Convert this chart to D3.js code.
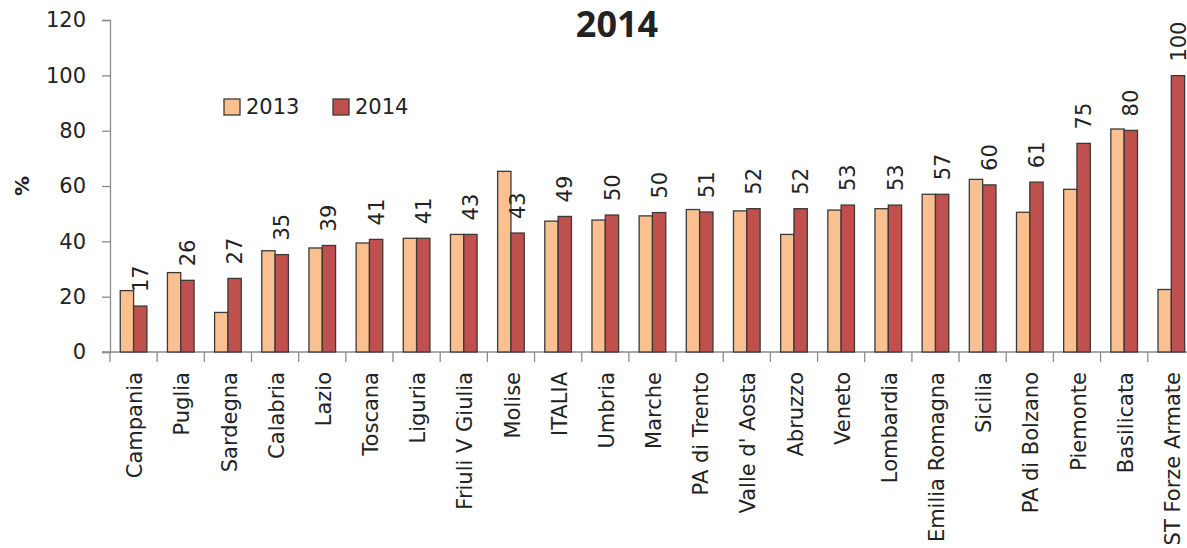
<!DOCTYPE html>
<html>
<head>
<meta charset="utf-8">
<script src="https://cdn.jsdelivr.net/npm/d3@7"></script>
<style>
  body { margin: 0; background: #fff; }
  svg text { font-family: "DejaVu Sans", Verdana, sans-serif; fill: #222; }
</style>
</head>
<body>
<div id="chart"></div>
<script>
// data
const categories = ["Campania", "Puglia", "Sardegna", "Calabria", "Lazio", "Toscana", "Liguria",
    "Friuli V Giulia", "Molise", "ITALIA", "Umbria", "Marche", "PA di Trento", "Valle d' Aosta",
    "Abruzzo", "Veneto", "Lombardia", "Emilia Romagna", "Sicilia", "PA di Bolzano", "Piemonte",
    "Basilicata", "ST Forze Armate"]
const series = ["2013", "2014"]
const values2013 = [22.2, 28.7, 14.3, 36.6, 37.6, 39.4, 41.1, 42.5, 65.3, 47.3, 47.7, 49.2, 51.5,
    51.0, 42.5, 51.3, 51.8, 57.0, 62.4, 50.5, 58.8, 80.6, 22.6]
const values2014 = [16.6, 25.9, 26.6, 35.2, 38.5, 40.7, 41.1, 42.5, 43.0, 49.0, 49.5, 50.4, 50.6,
    51.8, 51.8, 53.1, 53.1, 57.0, 60.4, 61.4, 75.4, 80.1, 99.9]
const yTicks = [0, 20, 40, 60, 80, 100, 120]
const colors = { "2013": "#FAC090", "2014": "#C0504D" }

let width = 1187, height = 548
let margin = { top: 20, left: 110, bottom: 196 }
let bandStep = 47.17

let svg = d3.select("#chart")
    .append("svg")
    .attr("width", width)
    .attr("height", height)

// scales
let x = d3.scaleBand().domain(categories)
    .range([margin.left, margin.left + bandStep * categories.length])
let xInner = d3.scaleBand().domain(series).range([0, x.bandwidth()]).paddingOuter(0.77)
let y = d3.scaleLinear().domain([0, 120]).range([height - margin.bottom, margin.top])

let rows = categories.map((c, i) => ({ name: c, "2013": values2013[i], "2014": values2014[i] }))

// y axis
let yAxis = d3.axisLeft(y).tickValues(yTicks).tickSize(8).tickPadding(16)
let gy = svg.append("g")
    .attr("transform", "translate(" + margin.left + ",0)")
    .call(yAxis)
gy.select(".domain").attr("stroke", "#8c8c8c").attr("stroke-width", 1.3)
gy.selectAll(".tick line").attr("stroke", "#8c8c8c").attr("stroke-width", 1.3)
gy.selectAll(".tick text")
    .style("font-size", "21px")
    .attr("fill", "#222")

// x axis with ticks between the categories
let gx = svg.append("g")
    .attr("transform", "translate(0," + y(0) + ")")
gx.append("line")
    .attr("x1", margin.left - 8).attr("x2", x.range()[1])
    .attr("stroke", "#8c8c8c").attr("stroke-width", 1.3)
gx.selectAll(".sep")
    .data(categories)
    .enter()
    .append("line")
    .attr("class", "sep")
    .attr("x1", d => x(d)).attr("x2", d => x(d))
    .attr("y1", 0).attr("y2", 10)
    .attr("stroke", "#8c8c8c").attr("stroke-width", 1.3)
gx.selectAll(".catlabel")
    .data(categories)
    .enter()
    .append("text")
    .attr("class", "catlabel")
    .attr("transform", d => "translate(" + (x(d) + x.bandwidth() / 2) + ",20) rotate(-90)")
    .attr("dy", "0.41em")
    .style("text-anchor", "end")
    .style("font-size", "21px")
    .text(d => d)

// bars
let groups = svg.selectAll(".grp")
    .data(rows)
    .enter()
    .append("g")
    .attr("class", "grp")
    .attr("transform", d => "translate(" + x(d.name) + ",0)")

groups.selectAll("rect")
    .data(d => series.map(s => ({ key: s, value: d[s] })))
    .enter()
    .append("rect")
    .attr("x", d => xInner(d.key))
    .attr("y", d => y(d.value))
    .attr("width", xInner.bandwidth())
    .attr("height", d => y(0) - y(d.value))
    .attr("fill", d => colors[d.key])
    .attr("stroke", "#3a3a3a")
    .attr("stroke-width", 1.3)

// value labels for 2014
groups.append("text")
    .attr("transform", d => "translate(" + (xInner("2014") + xInner.bandwidth() / 2) + "," +
        (y(d["2014"]) - 14) + ") rotate(-90)")
    .attr("dy", "0.36em")
    .style("font-size", "21px")
    .text(d => Math.round(d["2014"]))

// title
svg.append("text")
    .attr("x", 617)
    .attr("y", 37)
    .style("text-anchor", "middle")
    .style("font-family", "'Open Sans', sans-serif")
    .style("font-weight", "bold")
    .style("font-size", "36px")
    .attr("fill", "#000")
    .text("2014")

// y axis title
svg.append("text")
    .attr("transform", "translate(22," + ((y(0) + y(120)) / 2) + ") rotate(-90)")
    .attr("dy", "0.35em")
    .style("text-anchor", "middle")
    .style("font-weight", "bold")
    .style("font-size", "20px")
    .text("%")

// legend
let legend = svg.selectAll(".legend")
    .data(series)
    .enter()
    .append("g")
    .attr("class", "legend")
    .attr("transform", (d, i) => "translate(" + (224 + i * 109) + ",99)")
legend.append("rect")
    .attr("width", 16).attr("height", 16)
    .attr("fill", d => colors[d])
    .attr("stroke", "#3a3a3a")
    .attr("stroke-width", 1.3)
legend.append("text")
    .attr("x", 22)
    .attr("y", 15)
    .style("font-size", "21px")
    .text(d => d)
</script>
</body>
</html>
